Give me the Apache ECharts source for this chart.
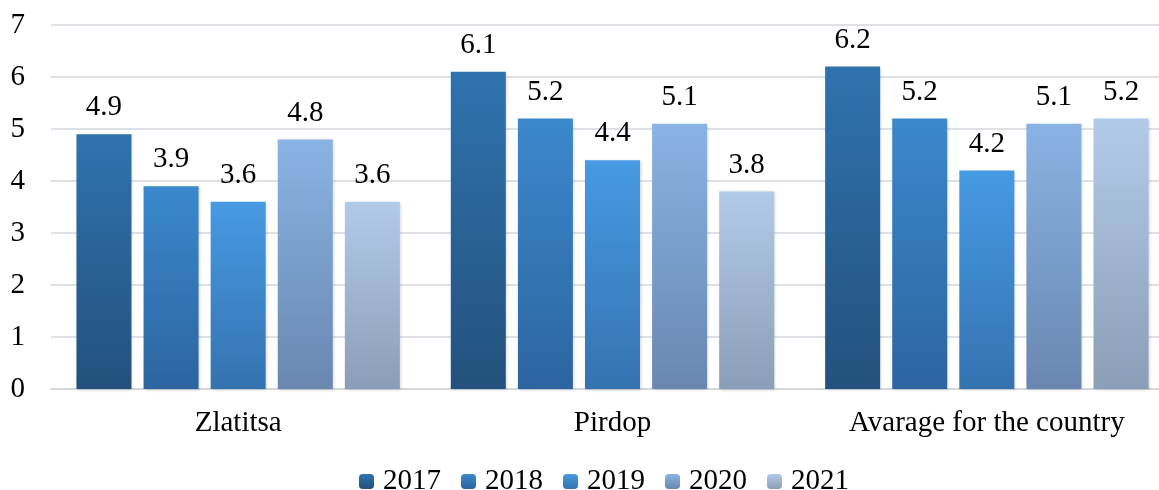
<!DOCTYPE html>
<html>
<head>
<meta charset="utf-8">
<script src="https://cdn.jsdelivr.net/npm/echarts@6/dist/echarts.min.js"></script>
<style>
  html, body { margin: 0; padding: 0; background: #fff; }
  #chart { width: 1159px; height: 490px; }
</style>
</head>
<body>
<div id="chart"></div>
<script>
const categories = ['Zlatitsa', 'Pirdop', 'Avarage for the country']
const years = ['2017', '2018', '2019', '2020', '2021']
const v2017 = [4.9, 6.1, 6.2]
const v2018 = [3.9, 5.2, 5.2]
const v2019 = [3.6, 4.4, 4.2]
const v2020 = [4.8, 5.1, 5.1]
const v2021 = [3.6, 3.8, 5.2]
const yTicks = [0, 7, 1]

// top / bottom colour of each year's gradient fill
const shades = [
  ['#2f73ae', '#23517d'],
  ['#3b88cc', '#2c65a0'],
  ['#479ae3', '#3472b0'],
  ['#89b3e4', '#6987b0'],
  ['#b2cae9', '#8b9eb7'],
]

const font = '"Liberation Serif", "Times New Roman", serif'
const values = [v2017, v2018, v2019, v2020, v2021]

const series = years.map((y, i) => ({
  name: y,
  type: 'bar',
  data: values[i],
  barWidth: 55,
  barGap: '22%',
  itemStyle: {
    color: new echarts.graphic.LinearGradient(0, 0, 0, 1, [
      { offset: 0, color: shades[i][0] },
      { offset: 1, color: shades[i][1] },
    ]),
    shadowColor: 'rgba(0,0,0,0.18)',
    shadowBlur: 3,
    shadowOffsetX: 1,
    shadowOffsetY: 1,
  },
  label: {
    show: true,
    position: 'top',
    distance: 12,
    color: '#000',
    fontFamily: font,
    fontSize: 29,
  },
}))

const myChart = echarts.init(document.getElementById('chart'), null, { renderer: 'canvas' })
myChart.setOption({
  animation: false,
  grid: { left: 51, top: 25, width: 1123, height: 364, outerBoundsMode: 'none' },
  legend: {
    data: years,
    top: 462,
    left: 354,
    itemWidth: 15,
    itemHeight: 15,
    itemGap: 20,
    textStyle: { fontFamily: font, fontSize: 29, color: '#000', padding: [0, 0, 0, 4] },
  },
  xAxis: {
    type: 'category',
    data: categories,
    axisTick: { show: false },
    axisLine: { lineStyle: { color: '#d4d8de', width: 2 } },
    axisLabel: { margin: 20, color: '#000', fontFamily: font, fontSize: 29 },
  },
  yAxis: {
    type: 'value',
    min: yTicks[0],
    max: yTicks[1],
    interval: yTicks[2],
    axisLine: { show: false },
    axisTick: { show: false },
    splitLine: { lineStyle: { color: '#dde1e7', width: 2 } },
    axisLabel: { margin: 26, color: '#000', fontFamily: font, fontSize: 29 },
  },
  series: series,
})
window.onresize = function () {
  myChart.resize()
}
</script>
</body>
</html>
